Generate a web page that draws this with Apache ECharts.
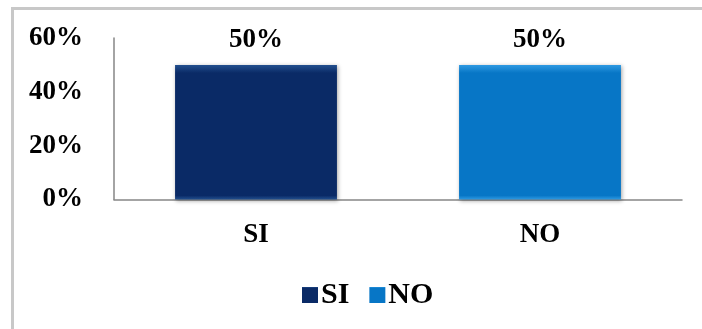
<!DOCTYPE html>
<html><head><meta charset="utf-8">
<style>html,body{margin:0;padding:0;background:#fff;overflow:hidden}#c{width:702px;height:329px}</style>
<script src="https://cdn.jsdelivr.net/npm/echarts@6/dist/echarts.min.js"></script>
</head><body><div id="c"></div>
<script>
const categories = ['SI', 'NO'];
const siValues = [50, '-'];
const noValues = ['-', 50];
const yTicks = [0, 20, 40, 60];

const chart = echarts.init(document.getElementById('c'));
const font = 'Liberation Serif, Times New Roman, serif';
function grad(top, main) {
  return new echarts.graphic.LinearGradient(0, 0, 0, 1, [
    {offset: 0, color: top}, {offset: 0.06, color: main}, {offset: 0.97, color: main}, {offset: 1, color: top}
  ]);
}
const lbl = {show: true, position: 'top', distance: 11, formatter: '{c}%', color: '#000',
  fontFamily: font, fontWeight: 'bold', fontSize: 27};
chart.setOption({
  animation: false,
  graphic: [{type: 'polyline', shape: {points: [[12.5, 400], [12.5, 8.5], [800, 8.5]]},
    style: {fill: 'none', stroke: '#c8c8c8', lineWidth: 3}, silent: true, z: -1}],
  grid: {left: 114, right: 20, top: 38, bottom: 129.5},
  legend: {left: 297, top: 275, itemWidth: 16, itemHeight: 16, itemGap: 20, icon: 'rect',
    data: categories,
    textStyle: {fontFamily: font, fontWeight: 'bold', fontSize: 30, color: '#000', padding: [0, 0, 0, -2]}},
  xAxis: {type: 'category', data: categories,
    axisLine: {lineStyle: {color: '#868686', width: 1.5}}, axisTick: {show: false},
    axisLabel: {margin: 22, color: '#000', fontFamily: font, fontWeight: 'bold', fontSize: 27}},
  yAxis: {type: 'value', min: yTicks[0], max: yTicks[yTicks.length - 1], interval: 20,
    axisLine: {show: true, lineStyle: {color: '#868686', width: 1.5}}, axisTick: {show: false},
    splitLine: {show: false},
    axisLabel: {margin: 31, formatter: '{value}%', color: '#000', fontFamily: font, fontWeight: 'bold', fontSize: 27}},
  series: [
    {name: 'SI', type: 'bar', stack: 's', data: siValues, barWidth: '57%',
      itemStyle: {color: grad('#23508f', '#0a2a66'), shadowColor: 'rgba(0,0,0,0.35)', shadowBlur: 4, shadowOffsetX: 1, shadowOffsetY: 1},
      label: lbl},
    {name: 'NO', type: 'bar', stack: 's', data: noValues, barWidth: '57%',
      itemStyle: {color: grad('#2f9ae2', '#0776c6'), shadowColor: 'rgba(0,0,0,0.35)', shadowBlur: 4, shadowOffsetX: 1, shadowOffsetY: 1},
      label: lbl}
  ]
});
</script></body></html>
